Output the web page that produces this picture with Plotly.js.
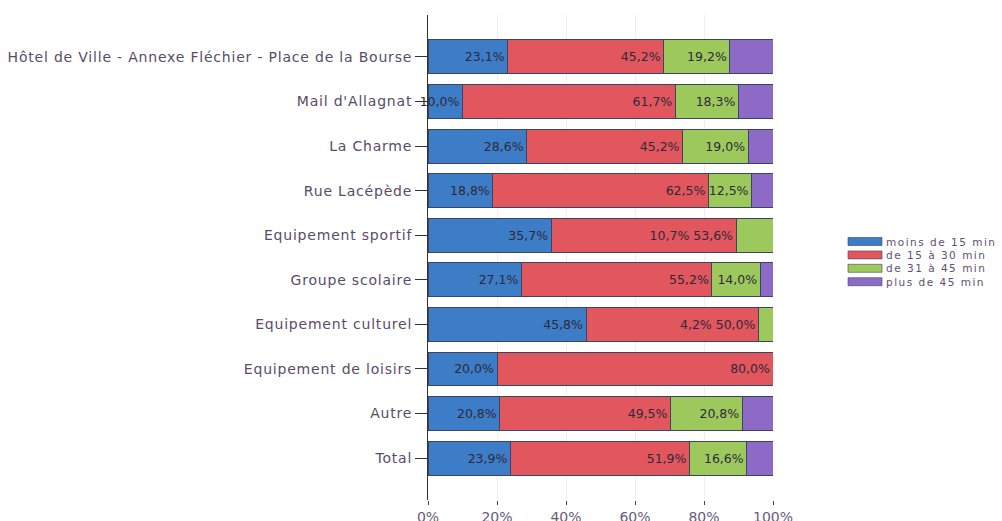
<!DOCTYPE html>
<html>
<head>
<meta charset="utf-8">
<script src="https://cdn.plot.ly/plotly-3.0.1.min.js"></script>
<style>
html,body{margin:0;padding:0;background:#fff;}
#chart{width:1002px;height:521px;}
.ytick text{letter-spacing:0.8px;}
.annotation-text{letter-spacing:1.5px;}
</style>
</head>
<body>
<div id="chart"></div>
<script>
const categories = [
  "Hôtel de Ville - Annexe Fléchier - Place de la Bourse",
  "Mail d'Allagnat",
  "La Charme",
  "Rue Lacépède",
  "Equipement sportif",
  "Groupe scolaire",
  "Equipement culturel",
  "Equipement de loisirs",
  "Autre",
  "Total"
];
const seriesNames = ["moins de 15 min", "de 15 à 30 min", "de 31 à 45 min", "plus de 45 min"];
const moins15 = [23.1, 10.0, 28.6, 18.8, 35.7, 27.1, 45.8, 20.0, 20.8, 23.9];
const de15a30 = [45.2, 61.7, 45.2, 62.5, 53.6, 55.2, 50.0, 80.0, 49.5, 51.9];
const de31a45 = [19.2, 18.3, 19.0, 12.5, 10.7, 14.0, 4.2, 0, 20.8, 16.6];
const plus45 = [12.5, 10.0, 7.2, 6.2, 0, 3.7, 0, 0, 8.9, 7.6];
const tickVals = [0, 20, 40, 60, 80, 100];
const tickText = ["0%", "20%", "40%", "60%", "80%", "100%"];

const colors = ["#3d7cc6", "#e2565e", "#9dc95c", "#8c6ac6"];
const values = [moins15, de15a30, de31a45, plus45];
const FONT = 'DejaVu Sans, Liberation Sans, Arial, sans-serif';

function fmt(v) { return v > 0 ? v.toFixed(1).replace('.', ',') + '%' : ''; }

// Labels: a narrow last "31-45" segment gets its label shown just left of the "15-30" label (as in the reference)
const narrow = de31a45.map((v, i) => v > 0 && v < 11 && plus45[i] === 0);
const texts = [
  moins15.map(fmt),
  de15a30.map((v, i) => narrow[i] ? fmt(de31a45[i]) + ' ' + fmt(v) : fmt(v)),
  de31a45.map((v, i) => narrow[i] ? '' : fmt(v)),
  plus45.map(() => '')
];

const traces = values.map((vals, i) => ({
  type: 'bar',
  orientation: 'h',
  name: seriesNames[i],
  y: categories,
  x: vals,
  marker: {color: colors[i], line: {color: '#3a4563', width: 1}},
  text: texts[i],
  textposition: 'inside',
  insidetextanchor: 'end',
  textangle: 0,
  constraintext: 'none',
  cliponaxis: false,
  textfont: {family: FONT, size: 12.5, color: '#2e2a3a'},
  hoverinfo: 'x+name',
  showlegend: false
}));

// Compact custom legend built from seriesNames/colors
const W = 1002, H = 521, L = 428, R = 229, T = 15, B = 21;
const pw = W - L - R, ph = H - T - B;
const px2x = p => (p - L) / pw;
const py2y = p => (H - B - p) / ph;
const legTop = 241.5, legStep = 13.4;
const shapes = [], annotations = [];
seriesNames.forEach((n, i) => {
  const cy = legTop + i * legStep;
  shapes.push({
    type: 'rect', xref: 'paper', yref: 'paper',
    x0: px2x(848), x1: px2x(882), y0: py2y(cy + 4), y1: py2y(cy - 4),
    fillcolor: colors[i], line: {color: '#3a4563', width: 0.6}
  });
  annotations.push({
    xref: 'paper', yref: 'paper', x: px2x(884), y: py2y(cy),
    xanchor: 'left', yanchor: 'middle', showarrow: false,
    text: n, font: {family: FONT, size: 10.5, color: '#5e5070'}
  });
});

const layout = {
  width: W,
  height: H,
  margin: {l: L, r: R, t: T, b: B},
  barmode: 'stack',
  bargap: 0.24,
  paper_bgcolor: '#ffffff',
  plot_bgcolor: '#ffffff',
  font: {family: FONT, size: 12, color: '#5e5070'},
  xaxis: {
    range: [0, 100],
    tickvals: tickVals,
    ticktext: tickText,
    ticks: 'outside',
    ticklen: 4,
    tickcolor: '#444',
    showgrid: true,
    gridcolor: '#efefef',
    zeroline: false,
    tickfont: {family: FONT, size: 14, color: '#6a5a7c'}
  },
  yaxis: {
    type: 'category',
    range: [9.94, -0.94],
    ticks: 'outside',
    ticklen: 12,
    tickcolor: '#333',
    showline: true,
    linecolor: '#333',
    linewidth: 1,
    showgrid: false,
    tickfont: {family: FONT, size: 14, color: '#5a4c68'}
  },
  shapes: shapes,
  annotations: annotations,
  showlegend: false
};

Plotly.newPlot('chart', traces, layout, {displayModeBar: false, staticPlot: true});
</script>
</body>
</html>
